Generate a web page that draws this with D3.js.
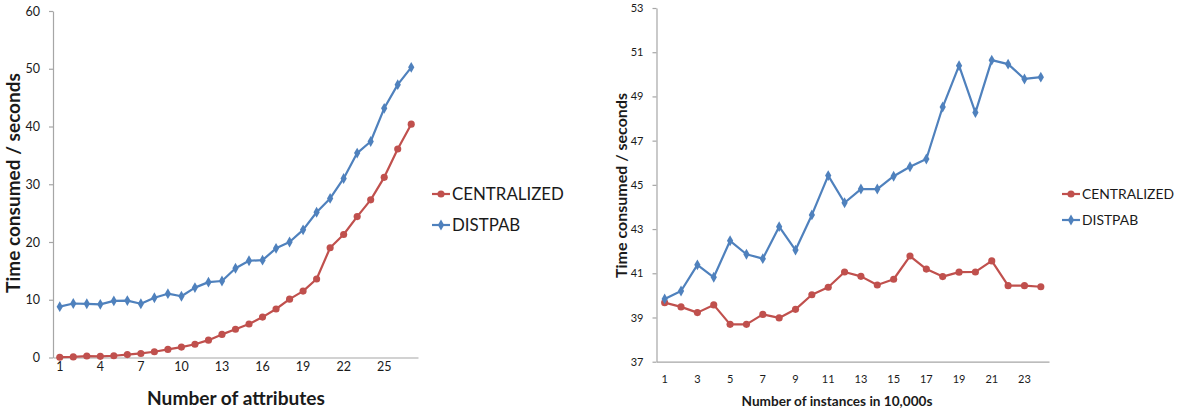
<!DOCTYPE html>
<html>
<head>
<meta charset="utf-8">
<script src="https://cdn.jsdelivr.net/npm/d3@7/dist/d3.min.js"></script>
<style>
  html, body { margin: 0; padding: 0; background: #fff; }
  svg { display: block; }
  text { font-family: Lato, "Open Sans", sans-serif; fill: #1a1a1a; }
</style>
</head>
<body>
<svg id="chart" width="1178" height="409"></svg>
<script>
// ---- Data: left chart (Number of attributes) ----
const attrCategories = d3.range(1, 28);
const attrCentralized = [0.05, 0.1, 0.25, 0.2, 0.3, 0.5, 0.7, 1.0, 1.4, 1.8, 2.3, 3.0, 4.0, 4.9, 5.8, 7.0, 8.4, 10.1, 11.5, 13.6, 19.0, 21.3, 24.4, 27.3, 31.2, 36.1, 40.4];
const attrDistpab = [8.8, 9.35, 9.3, 9.2, 9.8, 9.85, 9.3, 10.35, 11.05, 10.6, 12.1, 13.05, 13.25, 15.45, 16.75, 16.85, 18.9, 20.0, 22.1, 25.15, 27.55, 31.0, 35.4, 37.4, 43.15, 47.25, 50.25];
const attrYTicks = [0, 10, 20, 30, 40, 50, 60];
const attrXTickLabels = [1, 4, 7, 10, 13, 16, 19, 22, 25];

// ---- Data: right chart (Number of instances in 10,000s) ----
const instCategories = d3.range(1, 25);
const instCentralized = [39.67, 39.48, 39.22, 39.57, 38.69, 38.69, 39.14, 38.98, 39.37, 40.03, 40.37, 41.06, 40.86, 40.47, 40.73, 41.78, 41.19, 40.85, 41.05, 41.06, 41.56, 40.44, 40.44, 40.39];
const instDistpab = [39.84, 40.2, 41.38, 40.82, 42.47, 41.86, 41.66, 43.11, 42.05, 43.64, 45.42, 44.19, 44.81, 44.81, 45.39, 45.82, 46.17, 48.52, 50.39, 48.27, 50.64, 50.46, 49.79, 49.87];
const instYTicks = [37, 39, 41, 43, 45, 47, 49, 51, 53];
const instXTickLabels = [1, 3, 5, 7, 9, 11, 13, 15, 17, 19, 21, 23];

const seriesNames = ["CENTRALIZED", "DISTPAB"];
const RED = "#C0504D", BLUE = "#4F81BD", AXIS = "#A6A6A6";

const svg = d3.select("#chart");

function fitWidth(sel, target) {
  const fs = parseFloat(sel.attr("font-size"));
  const w = sel.node().getComputedTextLength();
  sel.attr("font-size", (fs * target / w).toFixed(2));
}

function drawChart(cfg) {
  const g = svg.append("g");
  const x = d3.scaleBand().domain(cfg.categories).range([cfg.left, cfg.right]);
  const y = d3.scaleLinear().domain(cfg.yDomain).range([cfg.bottom, cfg.top]);
  const cx = d => x(d) + x.bandwidth() / 2;

  // Y axis
  const ya = g.append("g").attr("transform", `translate(${cfg.left},0)`)
    .call(d3.axisLeft(y).tickValues(cfg.yTicks).tickSize(4).tickSizeOuter(0).tickPadding(9));
  ya.select(".domain").attr("stroke", AXIS).attr("stroke-width", 1.2);
  ya.selectAll(".tick line").attr("stroke", AXIS).attr("stroke-width", 1.2);
  ya.selectAll(".tick text").attr("font-size", cfg.tickFont).attr("font-family", "Lato").attr("fill", "#1a1a1a");

  // X axis
  const xa = g.append("g").attr("transform", `translate(0,${cfg.bottom})`)
    .call(d3.axisBottom(x).tickValues(cfg.xTickLabels).tickSize(0).tickSizeOuter(0));
  xa.select(".domain").attr("stroke", AXIS).attr("stroke-width", 1.2);
  xa.selectAll(".tick text").attr("font-size", cfg.tickFont).attr("font-family", "Lato")
    .attr("fill", "#1a1a1a").attr("y", cfg.xLabelOffset).attr("dy", "0.35em");

  const series = [
    { name: seriesNames[0], values: cfg.central, color: RED, marker: "circle" },
    { name: seriesNames[1], values: cfg.dist, color: BLUE, marker: "diamond" }
  ];
  const line = d3.line().x((d, i) => cx(cfg.categories[i])).y(d => y(d));
  const circleSym = d3.symbol().type(d3.symbolCircle).size(40);
  const diamondSym = d3.symbol().type(d3.symbolDiamond).size(34);

  series.forEach(s => {
    g.append("path").datum(s.values).attr("d", line)
      .attr("fill", "none").attr("stroke", s.color).attr("stroke-width", 2.2)
      .attr("stroke-linejoin", "round");
    g.selectAll(null).data(s.values).enter().append("path")
      .attr("transform", (d, i) => `translate(${cx(cfg.categories[i])},${y(d)})`)
      .attr("d", s.marker === "circle" ? circleSym : diamondSym)
      .attr("fill", s.color);
  });

  // Legend
  series.forEach((s, i) => {
    const ly = cfg.legendY[i];
    g.append("line").attr("x1", cfg.legendX).attr("x2", cfg.legendX + 18)
      .attr("y1", ly).attr("y2", ly).attr("stroke", s.color).attr("stroke-width", 2.2);
    g.append("path").attr("transform", `translate(${cfg.legendX + 9},${ly})`)
      .attr("d", s.marker === "circle" ? circleSym : diamondSym).attr("fill", s.color);
  });
  const lt0 = g.append("text").attr("x", cfg.legendX + 20).attr("y", cfg.legendY[0])
    .attr("dy", "0.35em").attr("font-size", 16).text(series[0].name);
  fitWidth(lt0, cfg.legendW);
  g.append("text").attr("x", cfg.legendX + 20).attr("y", cfg.legendY[1])
    .attr("dy", "0.35em").attr("font-size", lt0.attr("font-size")).text(series[1].name);

  // Axis titles
  const yt = g.append("text")
    .attr("transform", `translate(${cfg.yTitleX},${cfg.yTitleY}) rotate(-90)`)
    .attr("text-anchor", "middle").attr("dy", "0.35em")
    .attr("font-weight", "bold").attr("font-size", 18).text(cfg.yTitle);
  fitWidth(yt, cfg.yTitleW);
  const xt = g.append("text")
    .attr("x", cfg.xTitleX).attr("y", cfg.xTitleY)
    .attr("text-anchor", "middle").attr("dy", "0.35em")
    .attr("font-weight", "bold").attr("font-size", 18).text(cfg.xTitle);
  fitWidth(xt, cfg.xTitleW);
}

drawChart({
  categories: attrCategories, central: attrCentralized, dist: attrDistpab,
  yDomain: [0, 60], yTicks: attrYTicks, xTickLabels: attrXTickLabels,
  left: 53, right: 418, top: 11, bottom: 357.5,
  tickFont: 12.5, xLabelOffset: 9.5,
  legendX: 432, legendY: [194, 225], legendW: 112,
  yTitle: "Time consumed / seconds", yTitleX: 13, yTitleY: 183, yTitleW: 220,
  xTitle: "Number of attributes", xTitleX: 236, xTitleY: 398, xTitleW: 178
});

drawChart({
  categories: instCategories, central: instCentralized, dist: instDistpab,
  yDomain: [37, 53], yTicks: instYTicks, xTickLabels: instXTickLabels,
  left: 656.5, right: 1049, top: 8, bottom: 361.7,
  tickFont: 11, xLabelOffset: 17.6,
  legendX: 1062, legendY: [194, 220], legendW: 92,
  yTitle: "Time consumed / seconds", yTitleX: 621, yTitleY: 185.5, yTitleW: 185,
  xTitle: "Number of instances in 10,000s", xTitleX: 837, xTitleY: 401, xTitleW: 191
});
</script>
</body>
</html>
